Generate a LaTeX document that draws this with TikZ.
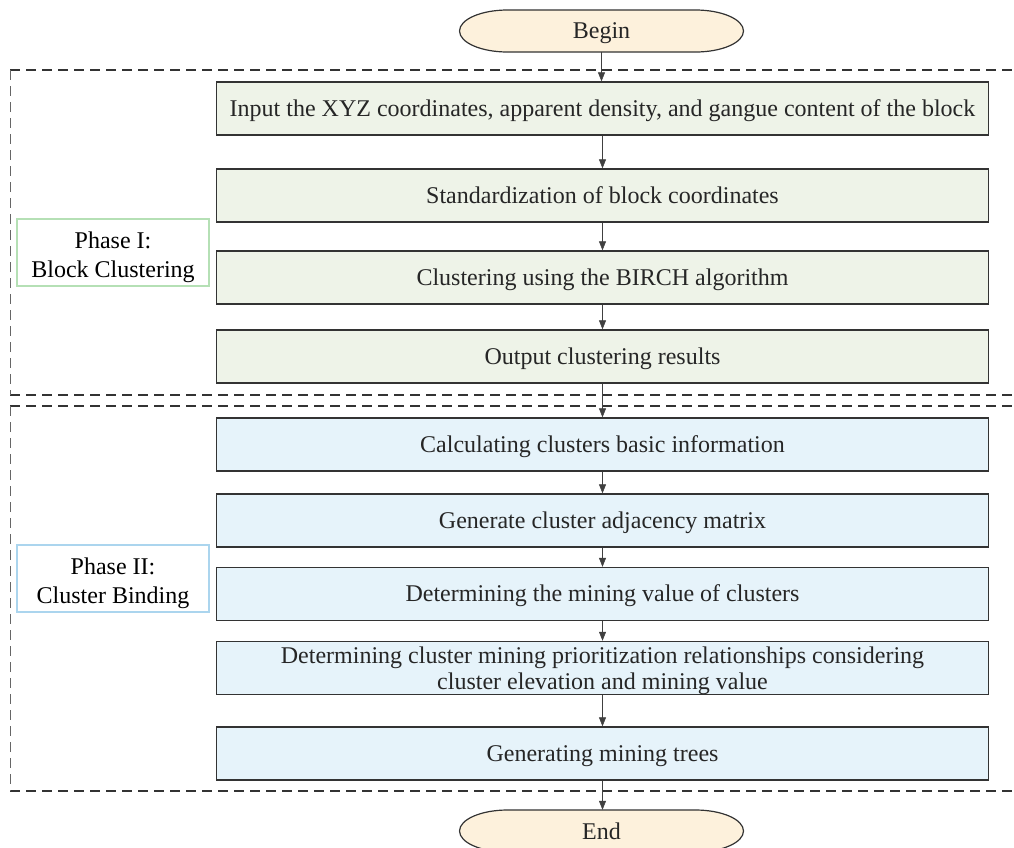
\documentclass[tikz,border=0pt]{standalone}
\usepackage{fontspec}
\setmainfont{Liberation Serif}
\usetikzlibrary{arrows.meta}
\definecolor{gfill}{HTML}{EEF3E8}
\definecolor{bfill}{HTML}{E6F3FA}
\definecolor{ofill}{HTML}{FDF1DC}
\definecolor{gline}{HTML}{B5E0B5}
\definecolor{bline}{HTML}{ABD5EE}
\definecolor{txt}{HTML}{262626}
\newcommand{\mystrut}{\rule[-5pt]{0pt}{26pt}}
\newcommand{\topstrut}[1]{\rule{0pt}{#1}}
\tikzset{
  box/.style={draw=black!80, line width=1.3pt, minimum width=772pt, minimum height=53pt, inner sep=0pt, align=center, text=txt, font=\fontsize{24}{26}\selectfont},
  gbox/.style={box, fill=gfill},
  bbox/.style={box, fill=bfill},
  term/.style={minimum width=285pt, minimum height=42pt, inner sep=0pt, text=txt, font=\fontsize{24}{26}\selectfont},
  termshape/.style={draw=black!80, line width=1.2pt, fill=ofill},
  phase/.style={draw, line width=1.4pt, fill=white, minimum width=192pt, minimum height=67pt, inner sep=0pt, align=center, text=black, font=\fontsize{24}{29}\selectfont},
  arr/.style={-{Triangle[length=9pt,width=7pt]}, draw=black!75, line width=0.6pt},
  frame/.style={dashed, dash pattern=on 10pt off 6pt, draw=black!80, line width=1.2pt},
  side/.style={dashed, dash pattern=on 10pt off 6pt, draw=black!60, line width=0.6pt},
}
\newcommand{\termpath}[2]{%
  \path[termshape] (#1-94,#2-21) -- (#1+94,#2-21)
    arc[start angle=90,end angle=-90,x radius=48pt,y radius=21pt]
    -- (#1-94,#2+21)
    arc[start angle=270,end angle=90,x radius=48pt,y radius=21pt] -- cycle;}
\begin{document}
\begin{tikzpicture}[x=1pt,y=-1pt]
\useasboundingbox (0,0) rectangle (1014,847);
% frames
\draw[frame] (10,70) -- (1014,70);
\draw[frame] (10,395) -- (1014,395);
\draw[side] (10,70) -- (10,395);
\draw[frame] (10,406) -- (1014,406);
\draw[frame] (10,791) -- (1014,791);
\draw[side] (10,406) -- (10,791);
% terminals
\termpath{601.5}{31}
\termpath{601.5}{831}
\node[term] (begin) at (601.5,31) {\mystrut Begin};
\node[term] (end) at (601.5,831) {\mystrut End};
% nodes
\node[gbox] (b1) at (602.5,108.5) {\mystrut Input the XYZ coordinates, apparent density, and gangue content of the block};
\node[gbox] (b2) at (602.5,195.5) {\mystrut Standardization of block coordinates};
\node[gbox] (b3) at (602.5,277.5) {\mystrut Clustering using the BIRCH algorithm};
\node[gbox] (b4) at (602.5,356.5) {\mystrut Output clustering results};
\node[bbox] (b5) at (602.5,444.5) {\mystrut Calculating clusters basic information};
\node[bbox] (b6) at (602.5,520.5) {\mystrut Generate cluster adjacency matrix};
\node[bbox] (b7) at (602.5,594) {\mystrut Determining the mining value of clusters};
\node[bbox] (b8) at (602.5,668) {\topstrut{22pt}Determining cluster mining prioritization relationships considering\\cluster elevation and mining value};
\node[bbox] (b9) at (602.5,753.5) {\mystrut Generating mining trees};
\node[phase, draw=gline] (p1) at (113,252.5) {\topstrut{26pt}Phase I:\\Block Clustering};
\node[phase, draw=bline] (p2) at (113,578.5) {\topstrut{26pt}Phase II:\\Cluster Binding};
% arrows
\draw[arr] (begin) -- (begin|-b1.north);
\draw[arr] (b1) -- (b2);
\draw[arr] (b2) -- (b3);
\draw[arr] (b3) -- (b4);
\draw[arr] (b4) -- (b5);
\draw[arr] (b5) -- (b6);
\draw[arr] (b6) -- (b7);
\draw[arr] (b7) -- (b8);
\draw[arr] (b8) -- (b9);
\draw[arr] (b9) -- (b9|-end.north);
\end{tikzpicture}
\end{document}
